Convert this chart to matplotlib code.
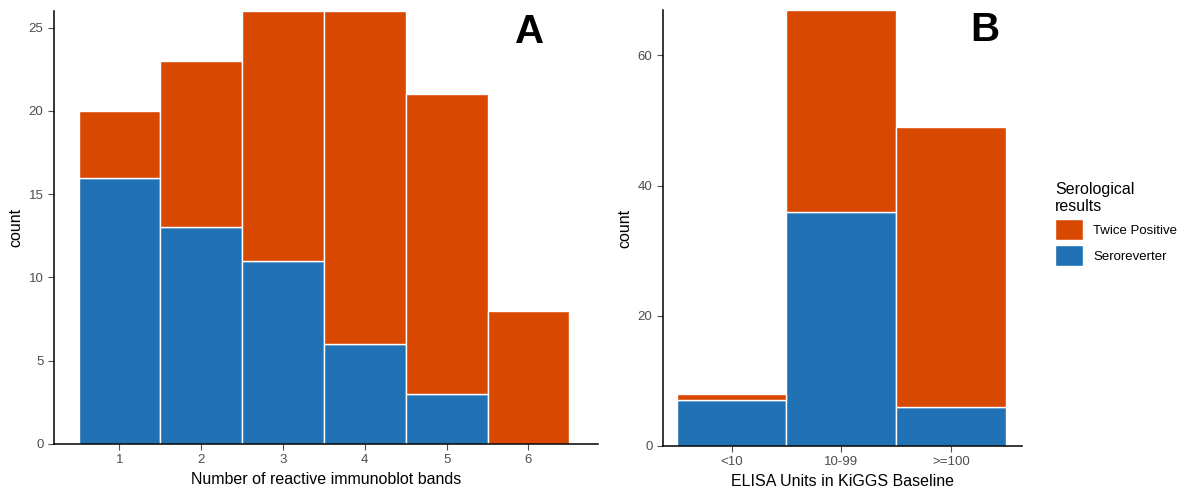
import matplotlib
matplotlib.use("Agg")
import matplotlib.pyplot as plt
from matplotlib.patches import Patch
import numpy as np

plt.rcParams['font.family'] = ['Liberation Sans', 'DejaVu Sans']

# Panel A data
bands = [1, 2, 3, 4, 5, 6]
a_sero = [16, 13, 11, 6, 3, 0]
a_twice = [4, 10, 15, 20, 18, 8]

# Panel B data
elisa_cats = ["<10", "10-99", ">=100"]
b_sero = [7, 36, 6]
b_twice = [1, 31, 43]

c_twice = "#D94801"
c_sero = "#2171B5"
tick_col = "#4D4D4D"

fig = plt.figure(figsize=(11.86, 4.90), dpi=100)
axA = fig.add_axes([0.0455, 0.0939, 0.4587, 0.8837])
axB = fig.add_axes([0.559, 0.0898, 0.3027, 0.890])

def style(ax):
    for s in ["top", "right"]:
        ax.spines[s].set_visible(False)
    for s in ["left", "bottom"]:
        ax.spines[s].set_color("black")
        ax.spines[s].set_linewidth(1.1)
    ax.tick_params(axis="both", colors=tick_col, labelsize=9.5, length=4, width=0.8,
                   labelcolor=tick_col)
    ax.set_ylabel("count", fontsize=11.5, color="black")

# Panel A
axA.bar(bands, a_sero, width=1.0, color=c_sero, edgecolor="white", linewidth=1)
axA.bar(bands, a_twice, bottom=a_sero, width=1.0, color=c_twice, edgecolor="white", linewidth=1)
axA.set_xlim(0.2, 6.85)
axA.set_ylim(0, 26)
axA.set_xticks(bands)
axA.set_yticks([0, 5, 10, 15, 20, 25])
axA.set_xlabel("Number of reactive immunoblot bands", fontsize=11.5)
style(axA)
axA.text(530 / 1186, 1 - 32 / 490, "A", transform=fig.transFigure, fontsize=29,
         fontweight="bold", ha="center", va="center")

# Panel B
xb = np.arange(1, len(elisa_cats) + 1)
axB.bar(xb, b_sero, width=1.0, color=c_sero, edgecolor="white", linewidth=1)
axB.bar(xb, b_twice, bottom=b_sero, width=1.0, color=c_twice, edgecolor="white", linewidth=1)
axB.set_xlim(0.375, 3.645)
axB.set_ylim(0, 67)
axB.set_xticks(xb)
axB.set_xticklabels(elisa_cats)
axB.set_yticks([0, 20, 40, 60])
axB.set_xlabel("ELISA Units in KiGGS Baseline", fontsize=11.5)
style(axB)
axB.text(985 / 1186, 1 - 30 / 490, "B", transform=fig.transFigure, fontsize=29,
         fontweight="bold", ha="center", va="center")

handles = [Patch(facecolor=c_twice, edgecolor="white", label="Twice Positive"),
           Patch(facecolor=c_sero, edgecolor="white", label="Seroreverter")]
leg = fig.legend(handles=handles, title="Serological\nresults", loc="upper left",
                 bbox_to_anchor=(1043 / 1186, 1 - 170 / 490), frameon=False,
                 fontsize=9.5, title_fontsize=11.5, handlelength=2.1, handleheight=2.1,
                 handletextpad=0.8, labelspacing=0.35, alignment="left")

fig.savefig("out.png", dpi=100)
